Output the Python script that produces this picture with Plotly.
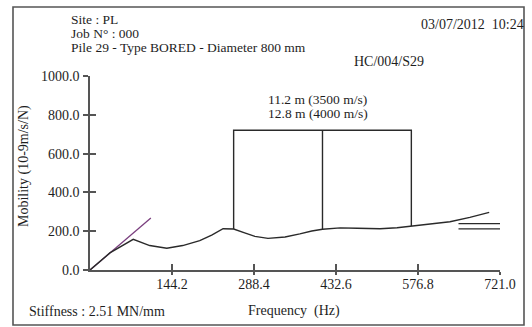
import math
import plotly.graph_objects as go

# Mobility curve (frequency in Hz, mobility in 10^-9 m/s/N)
freq = [0, 35, 76, 105, 135, 163, 193, 214, 234, 252.6, 272, 290, 313, 343, 369, 390,
        408.85, 440, 470, 510, 540, 565.1, 598, 633, 668, 702]
mob = [0, 88, 158, 126, 112, 126, 151, 180, 213, 211, 191, 173, 163, 170, 186, 201,
       210, 217, 215, 213, 218, 227, 240, 249, 271, 297]

# Toe-reflection markers (pile length / wave speed)
pile_length = 11.2      # m
wave_speed = 3500.0     # m/s
first_marker = 252.6    # Hz
marker_count = 3
marker_top = 720.0
marker_base = [211, 210, 227]

# Dynamic stiffness (MN/mm) and the frequency range of its line
stiffness = 2.51
stiffness_fmax = 107.0

# Characteristic mobility levels drawn at the right
level_freq = [648, 721]
level_values = [239, 212]

# Axis ticks
x_ticks = [144.2, 288.4, 432.6, 576.8, 721.0]
x_ticklabels = ["144.2", "288.4", "432.6", "576.8", "721.0"]
y_ticks = [0, 200, 400, 600, 800, 1000]
y_ticklabels = ["0.0", "200.0", "400.0", "600.0", "800.0", "1000.0"]

FONT = "Liberation Serif"
TXT = "#1e1e1e"
AX = "#555555"

W, H = 532, 327
ML, MR, MT, MB = 90, 32, 76, 57
PW, PH = W - ML - MR, H - MT - MB


def px(x):
    return (x - ML) / PW


def py(y):
    return (H - MB - y) / PH


spacing = wave_speed / (2 * pile_length)
marker_freq = [first_marker + i * spacing for i in range(marker_count)]

fig = go.Figure()

# Stiffness line: mobility = 2*pi*f / K
sf = [0, stiffness_fmax]
sm = [2 * math.pi * f / stiffness for f in sf]
fig.add_trace(go.Scatter(x=sf, y=sm, mode="lines",
                         line=dict(color="#7a3f7e", width=1.3),
                         hoverinfo="skip", showlegend=False))

# Mobility curve
fig.add_trace(go.Scatter(x=freq, y=mob, mode="lines",
                         line=dict(color="#2a2a2a", width=1.4),
                         hoverinfo="skip", showlegend=False))

# Marker frame: outer verticals joined along the top, plus the middle vertical
box_x = [marker_freq[0], marker_freq[0], marker_freq[-1], marker_freq[-1]]
box_y = [marker_base[0], marker_top, marker_top, marker_base[-1]]
fig.add_trace(go.Scatter(x=box_x, y=box_y, mode="lines",
                         line=dict(color="#2a2a2a", width=1.4),
                         hoverinfo="skip", showlegend=False))
for f, b in zip(marker_freq[1:-1], marker_base[1:-1]):
    fig.add_trace(go.Scatter(x=[f, f], y=[b, marker_top], mode="lines",
                             line=dict(color="#2a2a2a", width=1.4),
                             hoverinfo="skip", showlegend=False))

# Characteristic mobility levels
for v in level_values:
    fig.add_trace(go.Scatter(x=level_freq, y=[v, v], mode="lines",
                             line=dict(color="#2a2a2a", width=1.4),
                             hoverinfo="skip", showlegend=False))

# Empty trace on the overlay axes that carry the inner half of the ticks
fig.add_trace(go.Scatter(x=[None], y=[None], xaxis="x2", yaxis="y2",
                         showlegend=False, hoverinfo="skip"))

tickfont = dict(family=FONT, size=14, color=TXT)
fig.update_layout(
    width=W, height=H,
    margin=dict(l=ML, r=MR, t=MT, b=MB, pad=0),
    paper_bgcolor="white", plot_bgcolor="white",
    xaxis=dict(range=[0, 721], showgrid=False, zeroline=False,
               showline=True, linecolor=AX, linewidth=1.6,
               ticks="outside", ticklen=3, tickwidth=1.6, tickcolor=AX,
               tickvals=x_ticks, ticktext=x_ticklabels, tickfont=tickfont,
               ticklabelstandoff=-3),
    yaxis=dict(range=[0, 1000], showgrid=False, zeroline=False,
               showline=True, linecolor=AX, linewidth=1.6,
               ticks="outside", ticklen=5, tickwidth=1.6, tickcolor=AX,
               tickvals=y_ticks, ticktext=y_ticklabels, tickfont=tickfont,
               ticklabelstandoff=1),
    xaxis2=dict(range=[0, 721], overlaying="x", anchor="y2", side="bottom",
                showgrid=False, zeroline=False, showline=False,
                ticks="inside", ticklen=6, tickwidth=1.6, tickcolor=AX,
                tickvals=x_ticks, showticklabels=False),
    yaxis2=dict(range=[0, 1000], overlaying="y", anchor="x2", side="left",
                showgrid=False, zeroline=False, showline=False,
                ticks="inside", ticklen=6, tickwidth=1.6, tickcolor=AX,
                tickvals=y_ticks, showticklabels=False),
)

# Outer frame
fig.add_shape(type="rect", xref="paper", yref="paper",
              x0=px(13), x1=px(524), y0=py(325), y1=py(7),
              line=dict(color=AX, width=1.6), layer="below")


def label(text, x, y, xanchor="left", size=14, angle=0):
    fig.add_annotation(text=text, xref="paper", yref="paper", x=px(x), y=py(y),
                       xanchor=xanchor, yanchor="middle", showarrow=False,
                       textangle=angle, borderpad=0,
                       font=dict(family=FONT, size=size, color=TXT))


label("Site : PL", 70, 19.5, size=13.5)
label("Job N° : 000", 70, 33.5, size=13.5)
label("Pile 29 - Type BORED - Diameter 800 mm", 70, 47.5, size=13.5)
label("03/07/2012\u00a0 10:24", 525, 24, xanchor="right")
label("HC/004/S29", 353, 61)
label(f"{pile_length:.1f} m ({wave_speed:.0f} m/s)", 317.5, 99.5,
      xanchor="center", size=13.5)
label("12.8 m (4000 m/s)", 317.5, 113.5, xanchor="center", size=13.5)
label("Stiffness : %.2f MN/mm" % stiffness, 28, 311.5)
label("Frequency\u00a0 (Hz)", 293.5, 311, xanchor="center")
label("Mobility (10-9m/s/N)", 24, 166, xanchor="center", angle=-90)

fig.write_html("out.html")
